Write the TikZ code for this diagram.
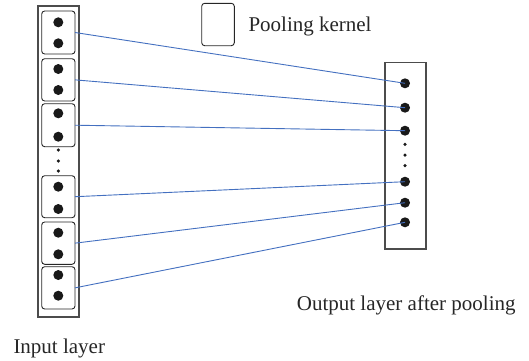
\documentclass[tikz,border=0pt]{standalone}
\usepackage{fontspec}
\setmainfont{Liberation Serif}
\definecolor{linkblue}{RGB}{68,112,192}
\begin{document}
\begin{tikzpicture}[x=1pt,y=-1pt,
  layerbox/.style={draw=black!70,line width=1.3pt},
  kernel/.style={draw=black!85,line width=0.9pt,rounded corners=3pt},
  bigdot/.style={circle,fill=black!90,inner sep=0pt,minimum size=10pt},
  smalldot/.style={circle,fill=black!90,inner sep=0pt,minimum size=3.5pt},
  link/.style={draw=linkblue,line width=0.9pt},
  lbl/.style={font=\fontsize{21}{24}\selectfont,text=black!85,inner sep=0pt,anchor=base west}]
\useasboundingbox (0,0) rectangle (529,360);
% input layer
\draw[layerbox] (38,6) rectangle (79,317);
\foreach \i/\a/\b in {1/11/54,2/58.7/101,3/103.7/146.7,4/175.7/217.7,5/222/264.3,6/266.7/309}{
  \draw[kernel] (41.7,\a) rectangle (75,\b);
  \coordinate (k\i) at (75,{(\a+\b)/2});
}
\foreach \i/\y in {1/22.3,2/43.3,3/69,4/90,5/113.3,6/136.7,7/186.7,8/209,9/232.7,10/254.3,11/275,12/295.7}{
  \node[bigdot] (in\i) at (58.3,\y) {};
}
\foreach \i/\y in {1/150,2/161,3/171}{\node[smalldot] (ld\i) at (58.3,\y) {};}
% output layer
\draw[layerbox] (385,62.7) rectangle (426,249);
\foreach \i/\y in {1/83.3,2/107.7,3/130.7,4/181.7,5/202.7,6/222.3}{
  \node[bigdot] (o\i) at (405,\y) {};
}
\foreach \i/\y in {1/144.3,2/155,3/165.5}{\node[smalldot] (rd\i) at (405,\y) {};}
% connections
\foreach \i in {1,...,6}{\draw[link] (k\i) -- (o\i.center);}
% legend
\draw[kernel] (201.7,3.3) rectangle (234.3,45.7);
\node[lbl] (leg) at (248.3,31) {Pooling kernel};
\node[lbl] (outl) at (296.7,310) {Output layer after pooling};
\node[lbl] (inl) at (13.3,353.3) {Input layer};
\end{tikzpicture}
\end{document}
